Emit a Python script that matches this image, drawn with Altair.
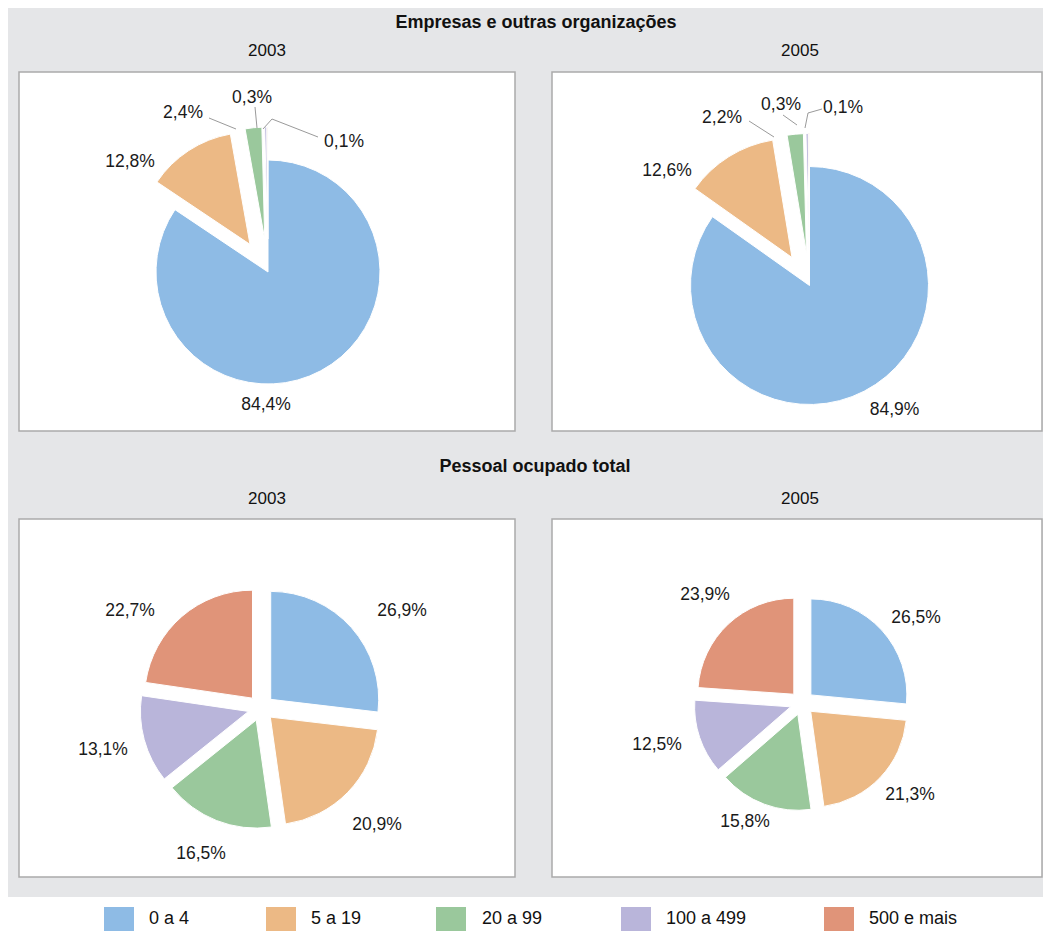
import math
import altair as alt
import pandas as pd

# ---------------- data ----------------
categories = ["0 a 4", "5 a 19", "20 a 99", "100 a 499", "500 e mais"]
colors = ["#8EBBE5", "#ECB985", "#9AC89C", "#B9B5DA", "#E09479"]

empresas_2003 = [84.4, 12.8, 2.4, 0.3, 0.1]
empresas_2005 = [84.9, 12.6, 2.2, 0.3, 0.1]
pessoal_2003 = [26.9, 20.9, 16.5, 13.1, 22.7]
pessoal_2005 = [26.5, 21.3, 15.8, 12.5, 23.9]

section_titles = ["Empresas e outras organizações", "Pessoal ocupado total"]
years = ["2003", "2005"]

# ---------------- layout (screen px; chart origin is at 8,8) ----------------
OFF = 8
W, H = 1035, 923
panel_boxes = [(19, 72, 515, 431), (552, 72, 1042, 431),
               (19, 519, 515, 877), (552, 519, 1042, 877)]
pie_center = [(268, 272), (809.5, 285.5), (261, 708), (802, 703)]
pie_radius = [112, 119, 108, 96]
explode = [[0, 33, 33, 33, 33], [0, 33, 33, 33, 33],
           [13, 13, 13, 13, 13], [12, 12, 12, 12, 12]]
label_dx = [[-2, -138, -85, -16, 76],
            [85, -142.5, -87.5, -28.5, 33.5],
            [141, 116, -60, -158, -131],
            [114, 108, -57, -145, -97]]
label_dy = [[133, -110, -159, -174, -130],
            [124.5, -114.5, -167.5, -180.5, -177.5],
            [-97, 117, 146, 42, -97],
            [-85, 92, 119, 42, -108]]
leader_segments = [  # x, y, x2, y2 (screen)
    (209, 118, 236, 129), (255, 107, 257, 128),
    (263, 129, 272, 119), (272, 119, 318, 137),
    (749, 121, 774, 137), (783, 115, 797, 125),
    (805, 128, 808, 113), (808, 113, 822, 109),
]
legend_square_x = [104, 266, 436, 621, 824]
legend_text_x = [149, 311, 482, 666, 869]
legend_top, legend_mid = 907, 919

series = [empresas_2003, empresas_2005, pessoal_2003, pessoal_2005]

# ---------------- tables ----------------
rows = []
for p, vals in enumerate(series):
    cx, cy = pie_center[p]
    for i, (c, v) in enumerate(zip(categories, vals)):
        rows.append(dict(panel=p, order=i, cat=c, value=v,
                         cx=cx - OFF, cy=cy - OFF, r=pie_radius[p],
                         explode=explode[p][i],
                         lx=cx - OFF + label_dx[p][i], ly=cy - OFF + label_dy[p][i]))
pie_df = pd.DataFrame(rows)

bg_df = pd.DataFrame([dict(x0=0, y0=0, x1=W, y1=897 - OFF)])
panel_df = pd.DataFrame([dict(x0=a - OFF, y0=b - OFF, x1=c - OFF, y1=d - OFF)
                         for a, b, c, d in panel_boxes])
leader_df = pd.DataFrame([dict(x=a - OFF, y=b - OFF, x2=c - OFF, y2=d - OFF)
                          for a, b, c, d in leader_segments])
title_df = pd.DataFrame([dict(t=section_titles[0], x=536 - OFF, y=23 - OFF),
                         dict(t=section_titles[1], x=535 - OFF, y=467 - OFF)])
year_df = pd.DataFrame([dict(t=years[0], x=267 - OFF, y=51 - OFF),
                        dict(t=years[1], x=800 - OFF, y=51 - OFF),
                        dict(t=years[0], x=267 - OFF, y=499 - OFF),
                        dict(t=years[1], x=800 - OFF, y=499 - OFF)])
legend_df = pd.DataFrame([dict(cat=c, x0=sx - OFF, x1=sx + 30 - OFF,
                               y0=legend_top - OFF, y1=H + 2,
                               tx=tx - OFF, ty=legend_mid - OFF)
                          for c, sx, tx in zip(categories, legend_square_x, legend_text_x)])

FONT = "Liberation Sans"
color_scale = alt.Scale(domain=categories, range=colors)

background = alt.Chart(bg_df).mark_rect(fill="#E5E6E8").encode(
    x=alt.X("x0:Q", scale=None), x2="x1:Q",
    y=alt.Y("y0:Q", scale=None), y2="y1:Q")

panels = alt.Chart(panel_df).mark_rect(fill="white", stroke="#ABABAB", strokeWidth=1.5).encode(
    x=alt.X("x0:Q", scale=None), x2="x1:Q",
    y=alt.Y("y0:Q", scale=None), y2="y1:Q")

base = alt.Chart(pie_df).transform_joinaggregate(
    total="sum(value)", groupby=["panel"]
).transform_window(
    cum="sum(value)", groupby=["panel"], sort=[alt.SortField("order")], frame=[None, 0]
).transform_calculate(
    a0="(datum.cum - datum.value) / datum.total * 100",
    a1="datum.cum / datum.total * 100",
    mid="(datum.cum - datum.value / 2) / datum.total * 2 * PI",
    px="datum.cx + datum.explode * sin(datum.mid)",
    py="datum.cy - datum.explode * cos(datum.mid)",
    label="replace(format(datum.value, '.1f'), '.', ',') + '%'",
)

pies = base.mark_arc(stroke="white", strokeWidth=1).encode(
    x=alt.X("px:Q", scale=None),
    y=alt.Y("py:Q", scale=None),
    theta=alt.Theta("a0:Q", stack=None,
                    scale=alt.Scale(domain=[0, 100], range=[0, 2 * math.pi])),
    theta2="a1:Q",
    radius=alt.Radius("r:Q", scale=None),
    color=alt.Color("cat:N", scale=color_scale, legend=None),
)

labels = base.mark_text(font=FONT, fontSize=17.5, color="#1a1a1a",
                        align="center", baseline="middle").encode(
    x=alt.X("lx:Q", scale=None), y=alt.Y("ly:Q", scale=None), text="label:N")

leaders = alt.Chart(leader_df).mark_rule(color="#9A9A9A", strokeWidth=1).encode(
    x=alt.X("x:Q", scale=None), y=alt.Y("y:Q", scale=None), x2="x2:Q", y2="y2:Q")

titles = alt.Chart(title_df).mark_text(font=FONT, fontSize=18, fontWeight="bold", color="#111111",
                                       align="center", baseline="middle").encode(
    x=alt.X("x:Q", scale=None), y=alt.Y("y:Q", scale=None), text="t:N")

year_text = alt.Chart(year_df).mark_text(font=FONT, fontSize=17, color="#111111",
                                         align="center", baseline="middle").encode(
    x=alt.X("x:Q", scale=None), y=alt.Y("y:Q", scale=None), text="t:N")

legend_sq = alt.Chart(legend_df).mark_rect().encode(
    x=alt.X("x0:Q", scale=None), x2="x1:Q",
    y=alt.Y("y0:Q", scale=None), y2="y1:Q",
    color=alt.Color("cat:N", scale=color_scale, legend=None))

legend_txt = alt.Chart(legend_df).mark_text(font=FONT, fontSize=18, color="#111111",
                                            align="left", baseline="middle").encode(
    x=alt.X("tx:Q", scale=None), y=alt.Y("ty:Q", scale=None), text="cat:N")

chart = alt.layer(
    background, panels, pies, leaders, labels, titles, year_text, legend_sq, legend_txt
).properties(
    width=W, height=H, autosize="none", padding=0, background="white"
).configure_view(strokeWidth=0)

chart.save("out.html", embed_options={"renderer": "svg", "actions": False})
